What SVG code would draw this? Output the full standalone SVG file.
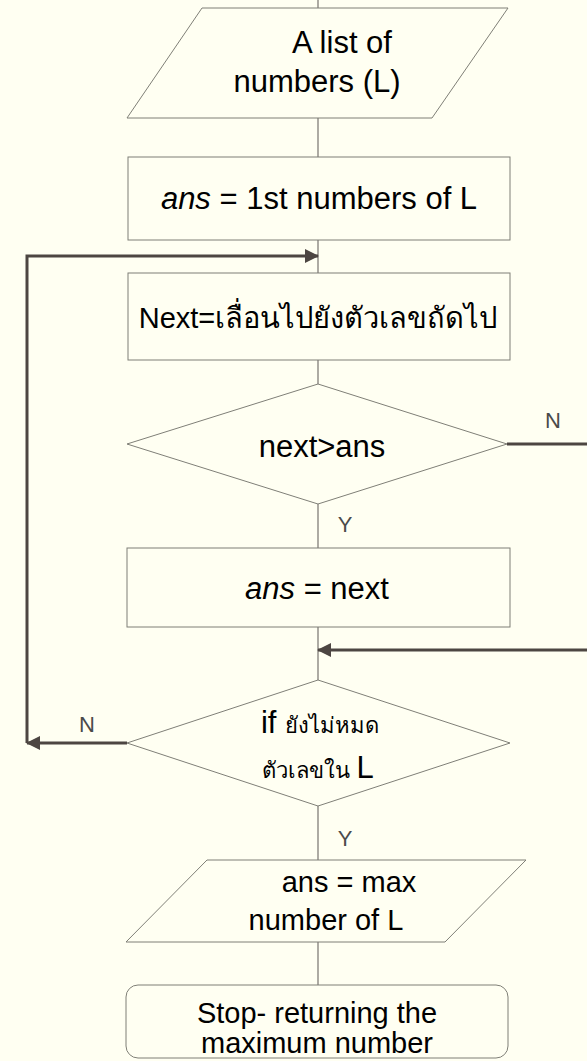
<svg xmlns="http://www.w3.org/2000/svg" width="587" height="1061" viewBox="0 0 587 1061">
<defs>
<style>
.shape{fill:#FFFFF2;stroke:#7f7f77;stroke-width:1}
.thin{fill:none;stroke:#77736e;stroke-width:1.2}
.loop{fill:none;stroke:#4d4642;stroke-width:3}
.t{font-family:"Liberation Sans",Arial,sans-serif;font-size:31px;fill:#000;text-anchor:middle}
.s{font-size:29px}
.th{font-family:"Liberation Sans","Noto Sans",sans-serif}
.lab{font-family:"Liberation Sans",Arial,sans-serif;font-size:22px;fill:#4a4a4a;text-anchor:middle}
</style>
<marker id="ah2" markerWidth="14" markerHeight="14" refX="13" refY="7" orient="auto" markerUnits="userSpaceOnUse">
<path d="M0,0 L14,7 L0,14 Z" fill="#4d4642"/>
</marker>
</defs>
<rect width="587" height="1061" fill="#FFFFF2"/>
<g id="connectors">
<path class="thin" d="M318,0 V8"/>
<path class="thin" d="M318,118 V157"/>
<path class="thin" d="M318,240 V273"/>
<path class="thin" d="M318,360 V384"/>
<path class="thin" d="M318,504 V548"/>
<path class="thin" d="M318,627 V680"/>
<path class="thin" d="M318,806 V860"/>
<path class="thin" d="M318,942 V985"/>
<path class="loop" d="M127,743 H27" marker-end="url(#ah2)"/>
<path class="loop" d="M27,743 V256 H318" marker-end="url(#ah2)"/>
<path class="loop" d="M507,444 H587"/>
<path class="loop" d="M587,650 H318" marker-end="url(#ah2)"/>
<text class="lab" x="553" y="428">N</text>
<text class="lab" x="345" y="532">Y</text>
<text class="lab" x="87" y="732">N</text>
<text class="lab" x="345" y="846">Y</text>
</g>
<g id="input">
<polygon class="shape" points="202,8 508,8 432,118 127,118"/>
<text class="t" x="342" y="53">A list of</text>
<text class="t" x="317" y="92">numbers (L)</text>
</g>
<g id="init">
<rect class="shape" x="128" y="157" width="382" height="83"/>
<text class="t" x="319" y="209"><tspan font-style="italic">ans</tspan> = 1st numbers of L</text>
</g>
<g id="next">
<rect class="shape" x="128" y="273" width="382" height="87"/>
<text class="t" x="318" y="328"><tspan font-size="29">Next=</tspan><tspan class="th" font-size="29">เลื่อนไปยังตัวเลขถัดไป</tspan></text>
</g>
<g id="cmp">
<polygon class="shape" points="318,384 507,444 318,504 127,444"/>
<text class="t" x="322" y="457">next&gt;ans</text>
</g>
<g id="assign">
<rect class="shape" x="127" y="548" width="383" height="79"/>
<text class="t" x="317" y="599"><tspan font-style="italic">ans</tspan> = next</text>
</g>
<g id="more">
<polygon class="shape" points="318,680 510,743 318,806 127,743"/>
<text class="t" x="320" y="733">if <tspan class="th" font-size="22">ยังไม่หมด</tspan></text>
<text class="t" x="318" y="778"><tspan class="th" font-size="22">ตัวเลขใน </tspan>L</text>
</g>
<g id="output">
<polygon class="shape" points="207,860 526,860 445,942 126,942"/>
<text class="t s" x="349" y="892">ans = max</text>
<text class="t s" x="326" y="930">number of L</text>
</g>
<g id="stop">
<rect class="shape" x="126" y="985" width="382" height="73" rx="12"/>
<text class="t s" x="317" y="1023">Stop- returning the</text>
<text class="t s" x="317" y="1053">maximum number</text>
</g>
</svg>
